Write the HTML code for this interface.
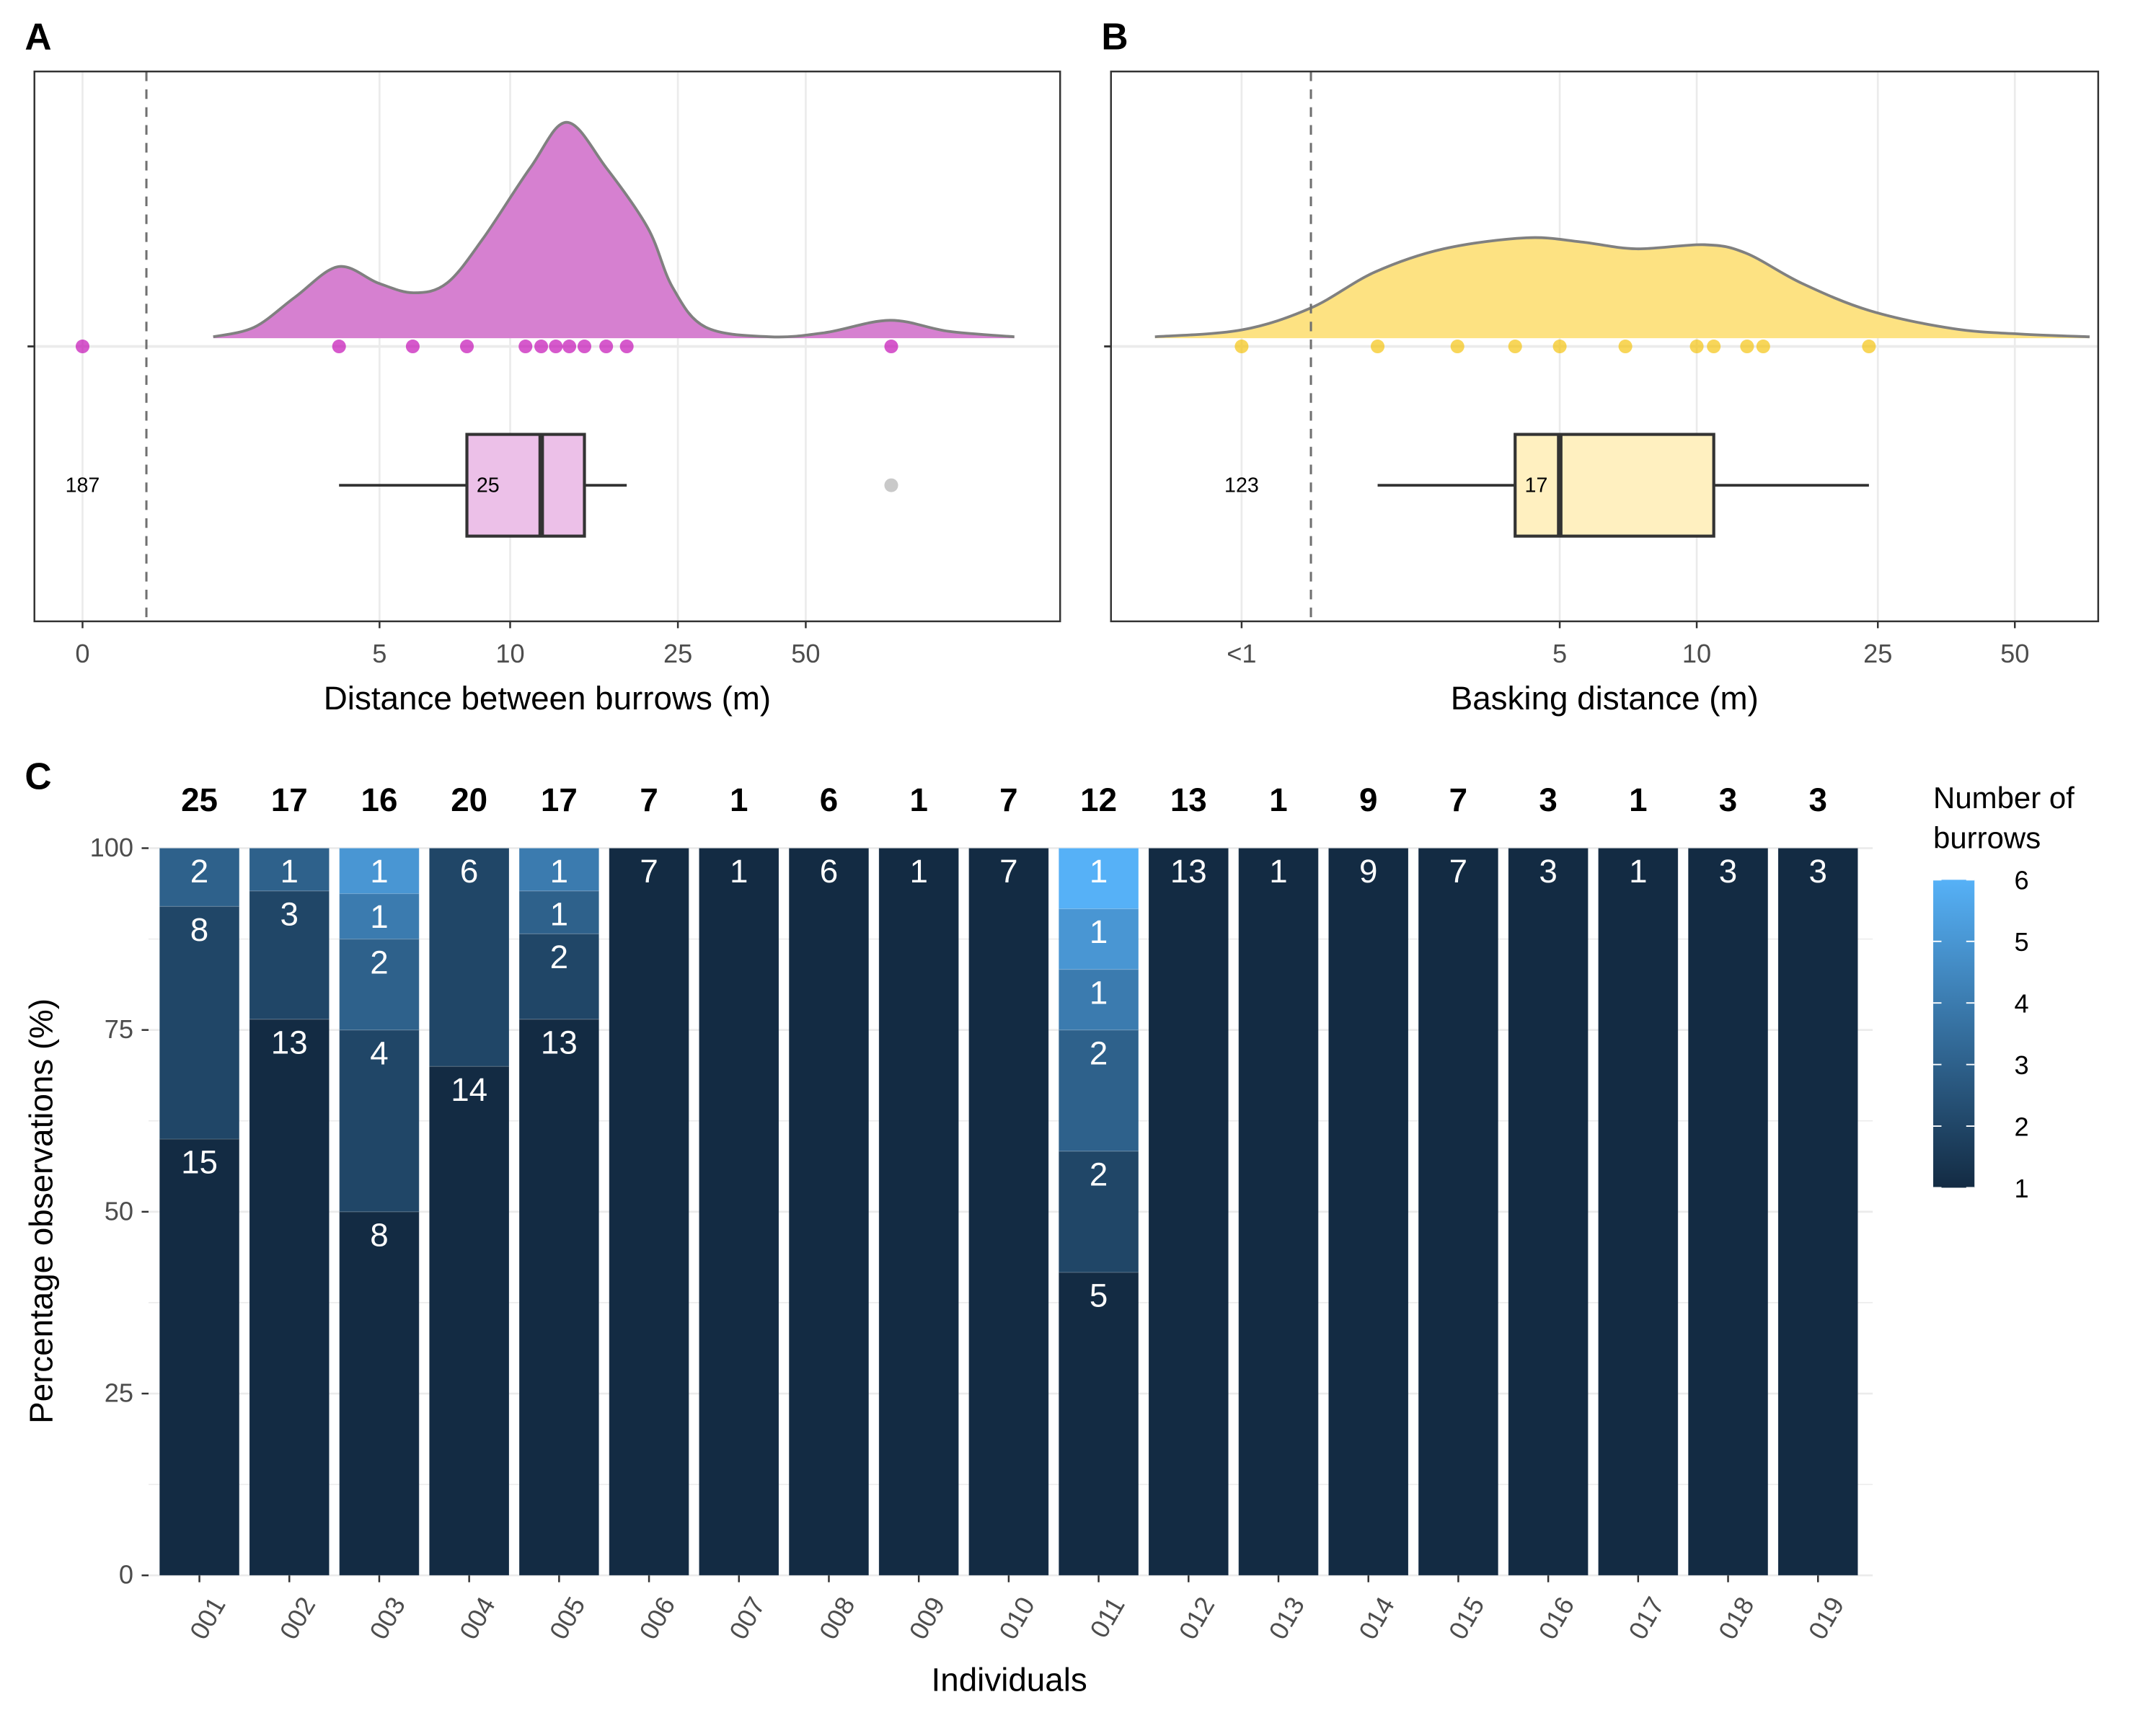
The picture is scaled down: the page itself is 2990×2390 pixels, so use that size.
<!DOCTYPE html>
<html><head><meta charset="utf-8">
<style>
html,body{margin:0;padding:0;background:#fff;}
svg{display:block;font-family:"Liberation Sans",Arial,sans-serif;}
</style></head>
<body>
<svg id="fig" width="2990" height="2390" viewBox="0 0 1568 1253.4" xmlns="http://www.w3.org/2000/svg">
<g id="pA"></g>
<g id="pB"></g>
<g id="pC"></g>
</svg>
<script>
// ---------- Panel A data ----------
const aTickVals = [0, 5, 10, 25, 50];
const aTickLabels = ["0", "5", "10", "25", "50"];
const aPoints = [0, 3.7, 6.0, 8.0, 10.9, 11.9, 12.9, 13.9, 15.1, 17.0, 19.0, 79];
const aDensX = [1.20, 1.82, 2.61, 3.68, 4.96, 6.03, 7.20, 8.68, 11.2, 13.7, 17.0, 21.3, 24.3, 29.1, 41.3, 55.5, 78.4, 107, 152];
const aDensY = [1, 8, 30, 52, 40, 33, 40, 72, 124, 157, 124, 80, 37, 8, 1, 4, 13, 5, 1];
const aBox = [3.7, 8.0, 11.9, 15.1, 19.0];
const aOutliers = [79];
const aCounts = ["187", "25"];
const aDashed = 0.47;
// ---------- Panel B data ----------
const bTickVals = [1, 5, 10, 25, 50];
const bTickLabels = ["<1", "5", "10", "25", "50"];
const bPoints = [1, 1.99, 2.98, 3.99, 5, 6.97, 10, 10.9, 12.9, 14.0, 23.9];
const bDensX = [0.645, 1, 1.42, 1.96, 2.78, 4.22, 5.57, 7.37, 10.4, 12.8, 17.0, 24.0, 36.5, 51.5, 73];
const bDensY = [1, 6, 22, 48, 65, 73, 70, 65, 68, 62, 40, 20, 7, 3, 1];
const bBox = [1.99, 3.99, 5, 10.9, 23.9];
const bCounts = ["123", "17"];
const bDashed = 1.42;
// ---------- Panel C data ----------
const cIndividuals = ["001","002","003","004","005","006","007","008","009","010","011","012","013","014","015","016","017","018","019"];
const cSegments = [[15,8,2],[13,3,1],[8,4,2,1,1],[14,6],[13,2,1,1],[7],[1],[6],[1],[7],[5,2,2,1,1,1],[13],[1],[9],[7],[3],[1],[3],[3]];
const cYTicks = [0, 25, 50, 75, 100];
const cLegendTicks = [1, 2, 3, 4, 5, 6];

const NS = "http://www.w3.org/2000/svg";
function mk(parent, tag, attrs, text) {
  const e = document.createElementNS(NS, tag);
  for (const k in attrs) e.setAttribute(k, attrs[k]);
  if (text !== undefined) e.textContent = text;
  parent.appendChild(e);
  return e;
}
function spline(pts) {
  let d = "M" + pts[0][0] + "," + pts[0][1];
  for (let i = 0; i < pts.length - 1; i++) {
    const p0 = pts[Math.max(0, i - 1)], p1 = pts[i], p2 = pts[i + 1], p3 = pts[Math.min(pts.length - 1, i + 2)];
    const c1x = p1[0] + (p2[0] - p0[0]) / 6, c1y = p1[1] + (p2[1] - p0[1]) / 6;
    const c2x = p2[0] - (p3[0] - p1[0]) / 6, c2y = p2[1] - (p3[1] - p1[1]) / 6;
    d += " C" + c1x + "," + c1y + " " + c2x + "," + c2y + " " + p2[0] + "," + p2[1];
  }
  return d;
}
const aAnch = [[0, 60], [Math.log10(6), 276], [Math.log10(11), 371], [Math.log10(26), 493], [Math.log10(51), 586]];
function xA(v) {
  const g = Math.log10(v + 1);
  for (let i = 0; i < aAnch.length - 1; i++) {
    if (g <= aAnch[i + 1][0]) return aAnch[i][1] + (g - aAnch[i][0]) / (aAnch[i + 1][0] - aAnch[i][0]) * (aAnch[i + 1][1] - aAnch[i][1]);
  }
  return 586 + (g - aAnch[4][0]) * 318;
}
function xB(v) { return 903 + 331 * Math.log10(v); }

function raincloud(g, cfg) {
  const {x0, x1, xs, ticks, labels, pts, dx, dy, box, outl, counts, dashed, fill, ptCol, boxFill, title, letter} = cfg;
  const y0 = 52, y1 = 452, base = 246, py = 252, by = 353;
  mk(g, "rect", {x: x0, y: y0, width: x1 - x0, height: y1 - y0, fill: "#fff"});
  ticks.forEach((t, i) => {
    const line = mk(g, "line", {x1: xs(t), x2: xs(t), y1: y0, y2: y1, stroke: "#ebebeb", "stroke-width": 1.4});
    
    
  });
  mk(g, "line", {x1: x0, x2: x1, y1: py, y2: py, stroke: "#ebebeb", "stroke-width": 2});
  const pts2 = dx.map((v, i) => [xs(v), base - dy[i]]);
  const dd = spline(pts2);
  const area = mk(g, "path", {d: dd + " L" + pts2[pts2.length - 1][0] + "," + base + " L" + pts2[0][0] + "," + base + " Z", fill: fill, stroke: "none"});
  
  
  mk(g, "path", {d: dd, fill: "none", stroke: "#808080", "stroke-width": 2});
  mk(g, "line", {x1: xs(dashed), x2: xs(dashed), y1: y0, y2: y1, stroke: "#707070", "stroke-width": 1.6, "stroke-dasharray": "7,6"});
  pts.forEach(v => {
    const c = mk(g, "circle", {cx: xs(v), cy: py, r: 5, fill: ptCol, "fill-opacity": 0.65});
    
    
  });
  mk(g, "line", {x1: xs(box[0]), x2: xs(box[1]), y1: by, y2: by, stroke: "#333", "stroke-width": 2});
  mk(g, "line", {x1: xs(box[3]), x2: xs(box[4]), y1: by, y2: by, stroke: "#333", "stroke-width": 2});
  const b = mk(g, "rect", {x: xs(box[1]), y: 316, width: xs(box[3]) - xs(box[1]), height: 74, fill: boxFill, stroke: "#333", "stroke-width": 2.2});
  
  
  mk(g, "line", {x1: xs(box[2]), x2: xs(box[2]), y1: 316, y2: 390, stroke: "#333", "stroke-width": 4});
  (outl || []).forEach(v => mk(g, "circle", {cx: xs(v), cy: by, r: 5, fill: "#bbb", "fill-opacity": 0.8}));
  mk(g, "text", {x: xs(ticks[0]), y: by + 5, "font-size": 15, "text-anchor": "middle"}, counts[0]);
  mk(g, "text", {x: xs(box[1]) + 7, y: by + 5, "font-size": 15}, counts[1]);
  mk(g, "rect", {x: x0, y: y0, width: x1 - x0, height: y1 - y0, fill: "none", stroke: "#333", "stroke-width": 1.3});
  mk(g, "line", {x1: x0 - 5, x2: x0, y1: py, y2: py, stroke: "#333", "stroke-width": 1.5});
  ticks.forEach((t, i) => {
    mk(g, "line", {x1: xs(t), x2: xs(t), y1: y1, y2: y1 + 5, stroke: "#333", "stroke-width": 1.3});
    const tl = mk(g, "text", {x: xs(t), y: 482, "font-size": 19, fill: "#4d4d4d", "text-anchor": "middle"}, labels[i]);
    
    
  });
  const at = mk(g, "text", {x: (x0 + x1) / 2, y: 516, "font-size": 24, "text-anchor": "middle"}, title);
  
  
  mk(g, "text", {x: x0 - 7, y: 36, "font-size": 27, "font-weight": "bold"}, letter);
}
raincloud(document.getElementById("pA"), {x0: 25, x1: 771, xs: xA, ticks: aTickVals, labels: aTickLabels, pts: aPoints, dx: aDensX, dy: aDensY, box: aBox, outl: aOutliers, counts: aCounts, dashed: aDashed, fill: "#d680d0", ptCol: "#c000b0", boxFill: "#ecc0e8", title: "Distance between burrows (m)", letter: "A"});
raincloud(document.getElementById("pB"), {x0: 808, x1: 1526, xs: xB, ticks: bTickVals, labels: bTickLabels, pts: bPoints, dx: bDensX, dy: bDensY, box: bBox, outl: [], counts: bCounts, dashed: bDashed, fill: "#fde282", ptCol: "#f5c000", boxFill: "#fff0c0", title: "Basking distance (m)", letter: "B"});

// ---------- Panel C ----------
(function () {
  const g = document.getElementById("pC");
  const yC = p => 1146 - p * 5.29;
  const xC = i => 145 + i * 65.4;
  const bw = 58;
  const c1 = [19, 43, 67], c6 = [86, 177, 247];
  const col = lvl => { const t = (lvl - 1) / 5; return "rgb(" + c1.map((c, k) => Math.round(c + (c6[k] - c) * t)).join(",") + ")"; };
  for (let p = 0; p <= 100; p += 12.5) {
    mk(g, "line", {x1: 108, x2: 1362, y1: yC(p), y2: yC(p), stroke: "#ebebeb", "stroke-width": p % 25 === 0 ? 1.4 : 0.8});
  }
  cYTicks.forEach(t => {
    mk(g, "line", {x1: 103, x2: 108, y1: yC(t), y2: yC(t), stroke: "#333", "stroke-width": 1.3});
    const tl = mk(g, "text", {x: 97, y: yC(t) + 6, "font-size": 19, fill: "#4d4d4d", "text-anchor": "end"}, t);
    
    
  });
  cIndividuals.forEach((id, i) => {
    const segs = cSegments[i];
    const total = segs.reduce((a, b) => a + b, 0);
    let cum = 0;
    segs.forEach((n, j) => {
      const lo = cum / total * 100; cum += n; const hi = cum / total * 100;
      const r = mk(g, "rect", {x: xC(i) - bw / 2, y: yC(hi), width: bw, height: yC(lo) - yC(hi), fill: col(j + 1), stroke: "rgba(255,255,255,0.15)", "stroke-width": 0.6});
      
      
      mk(g, "text", {x: xC(i), y: yC(hi) + 25, "font-size": 24, fill: "#fff", "text-anchor": "middle"}, n);
    });
    const tt = mk(g, "text", {x: xC(i), y: 590, "font-size": 24, "font-weight": "bold", "text-anchor": "middle"}, total);
    
    
    mk(g, "line", {x1: xC(i), x2: xC(i), y1: 1146, y2: 1151, stroke: "#333", "stroke-width": 1.3});
    const xl = mk(g, "text", {x: xC(i) + 8, y: 1160, "font-size": 19, fill: "#4d4d4d", "text-anchor": "end", transform: "rotate(-60 " + (xC(i) + 8) + " 1160)", dy: "0.7em"}, id);
    
    
  });
  const xt = mk(g, "text", {x: 734, y: 1230, "font-size": 24, "text-anchor": "middle"}, "Individuals");
  
  
  const yt = mk(g, "text", {x: 0, y: 0, "font-size": 24, "text-anchor": "middle", transform: "translate(38 881) rotate(-90)"}, "Percentage observations (%)");
  
  
  mk(g, "text", {x: 18, y: 574, "font-size": 27, "font-weight": "bold"}, "C");
  const defs = mk(g, "defs", {});
  const lg = mk(defs, "linearGradient", {id: "lgC", x1: 0, y1: 1, x2: 0, y2: 0});
  mk(lg, "stop", {offset: "0", "stop-color": col(1)});
  mk(lg, "stop", {offset: "1", "stop-color": col(6)});
  mk(g, "text", {x: 1406, y: 588, "font-size": 22}, "Number of");
  mk(g, "text", {x: 1406, y: 617, "font-size": 22}, "burrows");
  const ly = v => 864 - (v - 1) * 44.8;
  const lb = mk(g, "rect", {x: 1406, y: ly(6), width: 30, height: ly(1) - ly(6), fill: "url(#lgC)"});
  
  
  cLegendTicks.forEach(v => {
    mk(g, "line", {x1: 1406, x2: 1412, y1: ly(v), y2: ly(v), stroke: "#fff", "stroke-width": 1});
    mk(g, "line", {x1: 1430, x2: 1436, y1: ly(v), y2: ly(v), stroke: "#fff", "stroke-width": 1});
    mk(g, "text", {x: 1465, y: ly(v) + 7, "font-size": 19}, v);
  });
})();
</script>
</body></html>
